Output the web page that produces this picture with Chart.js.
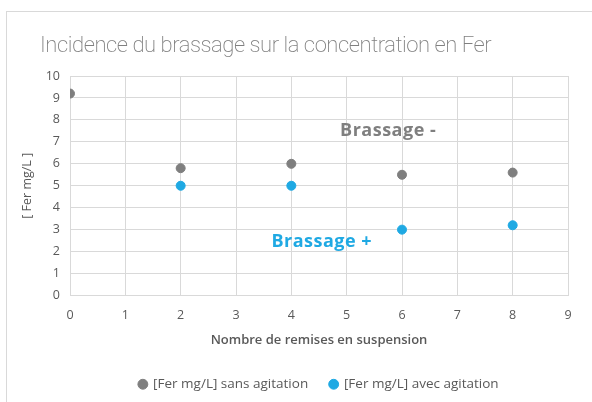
<!DOCTYPE html>
<html>
<head>
<meta charset="utf-8">
<script src="https://cdn.jsdelivr.net/npm/chart.js@4"></script>
<style>
  html, body { margin: 0; padding: 0; background: #fff; }
  #wrap { position: relative; width: 592px; height: 402px; overflow: hidden; }
  #frame { position: absolute; left: 6px; top: 11px; width: 620px; height: 420px; border: 1px solid #d9d9d9; }
  canvas { position: absolute; left: 0; top: 0; }
</style>
</head>
<body>
<div id="wrap">
  <div id="frame"></div>
  <canvas id="chart" width="592" height="402"></canvas>
</div>
<script>
// --- Data ---
const xSans = [0, 2, 4, 6, 8];
const ySans = [9.2, 5.8, 6.0, 5.5, 5.6];
const xAvec = [2, 4, 6, 8];
const yAvec = [5.0, 5.0, 3.0, 3.2];
const seriesNames = ['[Fer mg/L] sans agitation', '[Fer mg/L] avec agitation'];
const notes = ['Brassage -', 'Brassage +'];
const noteX = [5.75, 4.55];
const noteY = [7.5, 2.45];
const title = 'Incidence du brassage sur la concentration en Fer';

const grey = '#7f7f7f';
const blue = '#1fa9e3';
const text = '#595959';
const grid = '#d9d9d9';
const fam = 'Open Sans';

// --- Title + text notes drawn on the canvas ---
const extras = {
  id: 'extras',
  afterDraw(chart) {
    const c = chart.ctx;
    const xs = chart.scales.x, ys = chart.scales.y;
    c.save();
    c.textBaseline = 'middle';
    c.textAlign = 'left';
    c.fillStyle = '#808080';
    c.font = '200 22px Roboto';
    c.letterSpacing = '-0.45px';
    c.fillText(title, 40, 46);
    c.letterSpacing = '0.5px';
    c.textAlign = 'center';
    c.font = 'bold 18px ' + fam;
    [grey, blue].forEach((col, i) => {
      c.fillStyle = col;
      c.fillText(notes[i], xs.getPixelForValue(noteX[i]), ys.getPixelForValue(noteY[i]));
    });
    c.restore();
  }
};

new Chart(document.getElementById('chart'), {
  type: 'scatter',
  data: {
    datasets: [
      {
        label: seriesNames[0],
        data: xSans.map((x, i) => ({ x, y: ySans[i] })),
        backgroundColor: grey,
        borderColor: grey,
        pointRadius: 4.5,
        pointHoverRadius: 4.5
      },
      {
        label: seriesNames[1],
        data: xAvec.map((x, i) => ({ x, y: yAvec[i] })),
        backgroundColor: blue,
        borderColor: blue,
        pointRadius: 4.5,
        pointHoverRadius: 4.5
      }
    ]
  },
  options: {
    responsive: false,
    animation: false,
    layout: { padding: { left: 14, right: 24, top: 76, bottom: 1 } },
    plugins: {
      legend: {
        position: 'bottom',
        fullSize: false,
        labels: {
          usePointStyle: true,
          pointStyle: 'circle',
          boxWidth: 7,
          boxHeight: 7,
          padding: 22,
          color: text,
          font: { family: fam, size: 13.5 }
        }
      },
      tooltip: { enabled: false }
    },
    scales: {
      x: {
        type: 'linear',
        min: 0, max: 9,
        ticks: { stepSize: 1, color: text, padding: 12, font: { family: fam, size: 12.5 } },
        grid: { color: grid, drawTicks: false },
        border: { color: grid },
        title: { display: true, text: 'Nombre de remises en suspension', color: text, font: { family: fam, size: 13, weight: '600' }, padding: { top: 8, bottom: 7 } },
        afterFit(s) { s.height = 60; }
      },
      y: {
        min: 0, max: 10,
        ticks: { stepSize: 1, color: text, padding: 10, font: { family: fam, size: 12.5 } },
        grid: { color: grid, drawTicks: false },
        border: { color: grid },
        title: { display: true, text: '[ Fer mg/L ]', color: text, font: { family: fam, size: 12.5 }, padding: { top: 6, bottom: 4 } },
        afterFit(s) { s.width = 56; }
      }
    }
  },
  plugins: [extras]
});
</script>
</body>
</html>
